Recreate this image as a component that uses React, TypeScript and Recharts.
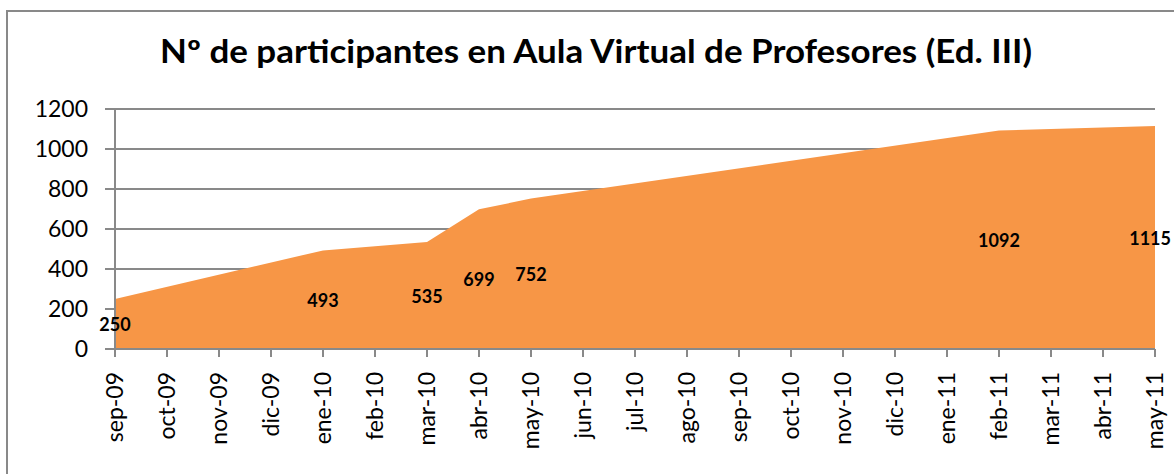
import React from 'react';
import { AreaChart, Area, XAxis, YAxis, CartesianGrid, LabelList } from 'recharts';

const months = [
  'sep-09', 'oct-09', 'nov-09', 'dic-09', 'ene-10', 'feb-10', 'mar-10', 'abr-10',
  'may-10', 'jun-10', 'jul-10', 'ago-10', 'sep-10', 'oct-10', 'nov-10', 'dic-10',
  'ene-11', 'feb-11', 'mar-11', 'abr-11', 'may-11'
];
const pointMonths = ['sep-09', 'ene-10', 'mar-10', 'abr-10', 'may-10', 'feb-11', 'may-11'];
const participants = [250, 493, 535, 699, 752, 1092, 1115];
const yTicks = [0, 200, 400, 600, 800, 1000, 1200];

const data = pointMonths.map((m, i) => ({ m: months.indexOf(m), v: participants[i] }));
const monthIdx = months.map((_, i) => i);

const W = 1174;
const H = 474;
const X_AXIS_H = 125;
const PLOT_BOTTOM = H - X_AXIS_H;
const FONT = 'Lato, "Open Sans", sans-serif';
const GRAY = '#898989';
const LABEL_SIZE = 18;

const MonthTick = (props: any) => {
  const { x, y, payload } = props;
  return (
    <g transform={`translate(${x},${y})`}>
      <text transform="rotate(-90)" textAnchor="end" dy="0.36em" fontSize={23} fontFamily={FONT} fill="#000">
        {months[payload.value]}
      </text>
    </g>
  );
};

// value label centred in the filled area, kept inside the frame
const CenterLabel = (props: any) => {
  const { x, y, value } = props;
  const half = String(value).length * LABEL_SIZE * 0.29;
  return (
    <text x={Math.min(x, W - 3 - half)} y={(y + PLOT_BOTTOM) / 2} textAnchor="middle" dominantBaseline="central"
      fontSize={LABEL_SIZE} fontWeight="bold" fontFamily={FONT} fill="#000">
      {value}
    </text>
  );
};

export default function App() {
  return (
    <div style={{ position: 'fixed', left: 0, top: 0, width: W, height: H, overflow: 'hidden', background: '#fff' }}>
      <div style={{ position: 'absolute', left: 6, top: 10, width: 1300, height: 600, border: `2px solid ${GRAY}` }} />
      <svg width={W} height={H} style={{ position: 'absolute', left: 0, top: 0 }}>
        <text x={160} y={63} textLength={872} lengthAdjust="spacingAndGlyphs" fontSize={32}
          fontWeight="bold" fontFamily={FONT} fill="#000">
          Nº de participantes en Aula Virtual de Profesores (Ed. III)
        </text>
      </svg>
      <div style={{ position: 'absolute', left: 0, top: 0 }}>
        <AreaChart width={W} height={H} data={data} margin={{ top: 109, right: 19, bottom: 0, left: 0 }}>
          <CartesianGrid vertical={false} stroke={GRAY} strokeWidth={2} />
          <XAxis dataKey="m" type="number" domain={[0, 20]} ticks={monthIdx} interval={0}
            height={X_AXIS_H} tickSize={8} tickMargin={15} tick={<MonthTick />}
            axisLine={{ stroke: GRAY, strokeWidth: 2 }} tickLine={{ stroke: GRAY, strokeWidth: 2 }} />
          <YAxis domain={[0, 1200]} ticks={yTicks} width={115} tickSize={10} tickMargin={17}
            tick={{ fontSize: 23, fontFamily: FONT, fill: '#000' }}
            axisLine={{ stroke: GRAY, strokeWidth: 2 }} tickLine={{ stroke: GRAY, strokeWidth: 2 }} />
          <Area type="linear" dataKey="v" stroke="none" fill="#F79646" fillOpacity={1} isAnimationActive={false}>
            <LabelList dataKey="v" content={<CenterLabel />} />
          </Area>
        </AreaChart>
      </div>
    </div>
  );
}
